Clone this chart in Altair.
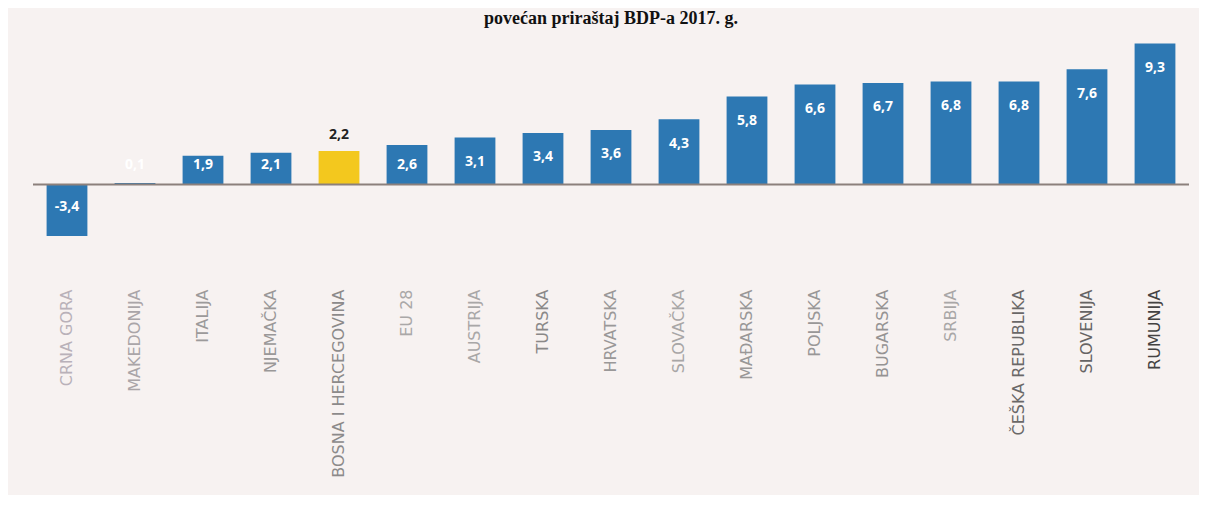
import altair as alt
import pandas as pd

categories = ["CRNA GORA", "MAKEDONIJA", "ITALIJA", "NJEMAČKA", "BOSNA I HERCEGOVINA",
              "EU 28", "AUSTRIJA", "TURSKA", "HRVATSKA", "SLOVAČKA", "MAĐARSKA",
              "POLJSKA", "BUGARSKA", "SRBIJA", "ČEŠKA REPUBLIKA", "SLOVENIJA", "RUMUNIJA"]
values = [-3.4, 0.1, 1.9, 2.1, 2.2, 2.6, 3.1, 3.4, 3.6, 4.3, 5.8, 6.6, 6.7, 6.8, 6.8, 7.6, 9.3]
highlight = "BOSNA I HERCEGOVINA"
title_text = "povećan priraštaj BDP-a 2017. g."

label_colors = ["#b9b1b9", "#aaa5a8", "#9c9a9a", "#9a9898", "#8c8a8a", "#aaa8a8",
                "#a9a7a7", "#8a8888", "#9a9898", "#a8a6a6", "#999797", "#999797",
                "#959393", "#a9a7a7", "#6a6868", "#666464", "#444242"]

df = pd.DataFrame({"cat": categories, "value": values})
df["hl"] = df["cat"].eq(highlight).map({True: "hl", False: "base"})

cats_js = "[" + ",".join("'" + c + "'" for c in categories) + "]"
cols_js = "[" + ",".join("'" + c + "'" for c in label_colors) + "]"

x_enc = alt.X("cat:N", sort=categories,
              scale=alt.Scale(paddingInner=0.4, paddingOuter=0.2),
              axis=alt.Axis(title=None, labelAngle=270, ticks=False, domain=False,
                            labelPadding=44, labelFont="DejaVu Sans", labelFontSize=16,
                            labelColor=alt.ExprRef(expr=cols_js + "[indexof(" + cats_js + ", datum.value)]"),
                            labelLimit=400, grid=False))
y_scale = alt.Scale(domain=[-4, 10])

base = alt.Chart(df)

bars = base.mark_bar().encode(
    x=x_enc,
    y=alt.Y("value:Q", scale=y_scale, axis=None),
    color=alt.Color("hl:N", scale=alt.Scale(domain=["base", "hl"], range=["#2d78b3", "#f3c81e"]), legend=None),
)

text = base.transform_calculate(
    lab="(datum.value < 0 ? '-' : '') + replace(format(abs(datum.value), '.1f'), '.', ',')",
    pos="datum.cat == '" + highlight + "' ? datum.value + 1.05 : (datum.value < 0 ? -1.5 : max(datum.value - 1.6, 1.3))",
    tc="datum.cat == '" + highlight + "' ? '#222222' : '#ffffff'",
).mark_text(font="Open Sans", fontWeight="bold", fontSize=14, baseline="middle").encode(
    x=alt.X("cat:N", sort=categories),
    y=alt.Y("pos:Q", scale=y_scale),
    text="lab:N",
    color=alt.Color("tc:N", scale=None),
)

zero = alt.Chart(pd.DataFrame({"z": [0]})).mark_rule(color="#8c807c", strokeWidth=2).encode(
    y=alt.Y("z:Q", scale=y_scale)
)

chart = alt.layer(bars, text, zero).properties(
    width=1156, height=212,
    title=alt.TitleParams(title_text, font="Liberation Serif", fontSize=18, fontWeight="bold",
                          color="#111111", anchor="middle", offset=5),
    autosize=alt.AutoSizeParams(type="none"),
    padding={"left": 25, "top": 25, "right": 10, "bottom": 250},
    background="#f7f2f1",
).configure_view(stroke=None)

chart.save("out.html", embed_options={"renderer": "svg", "actions": False})
